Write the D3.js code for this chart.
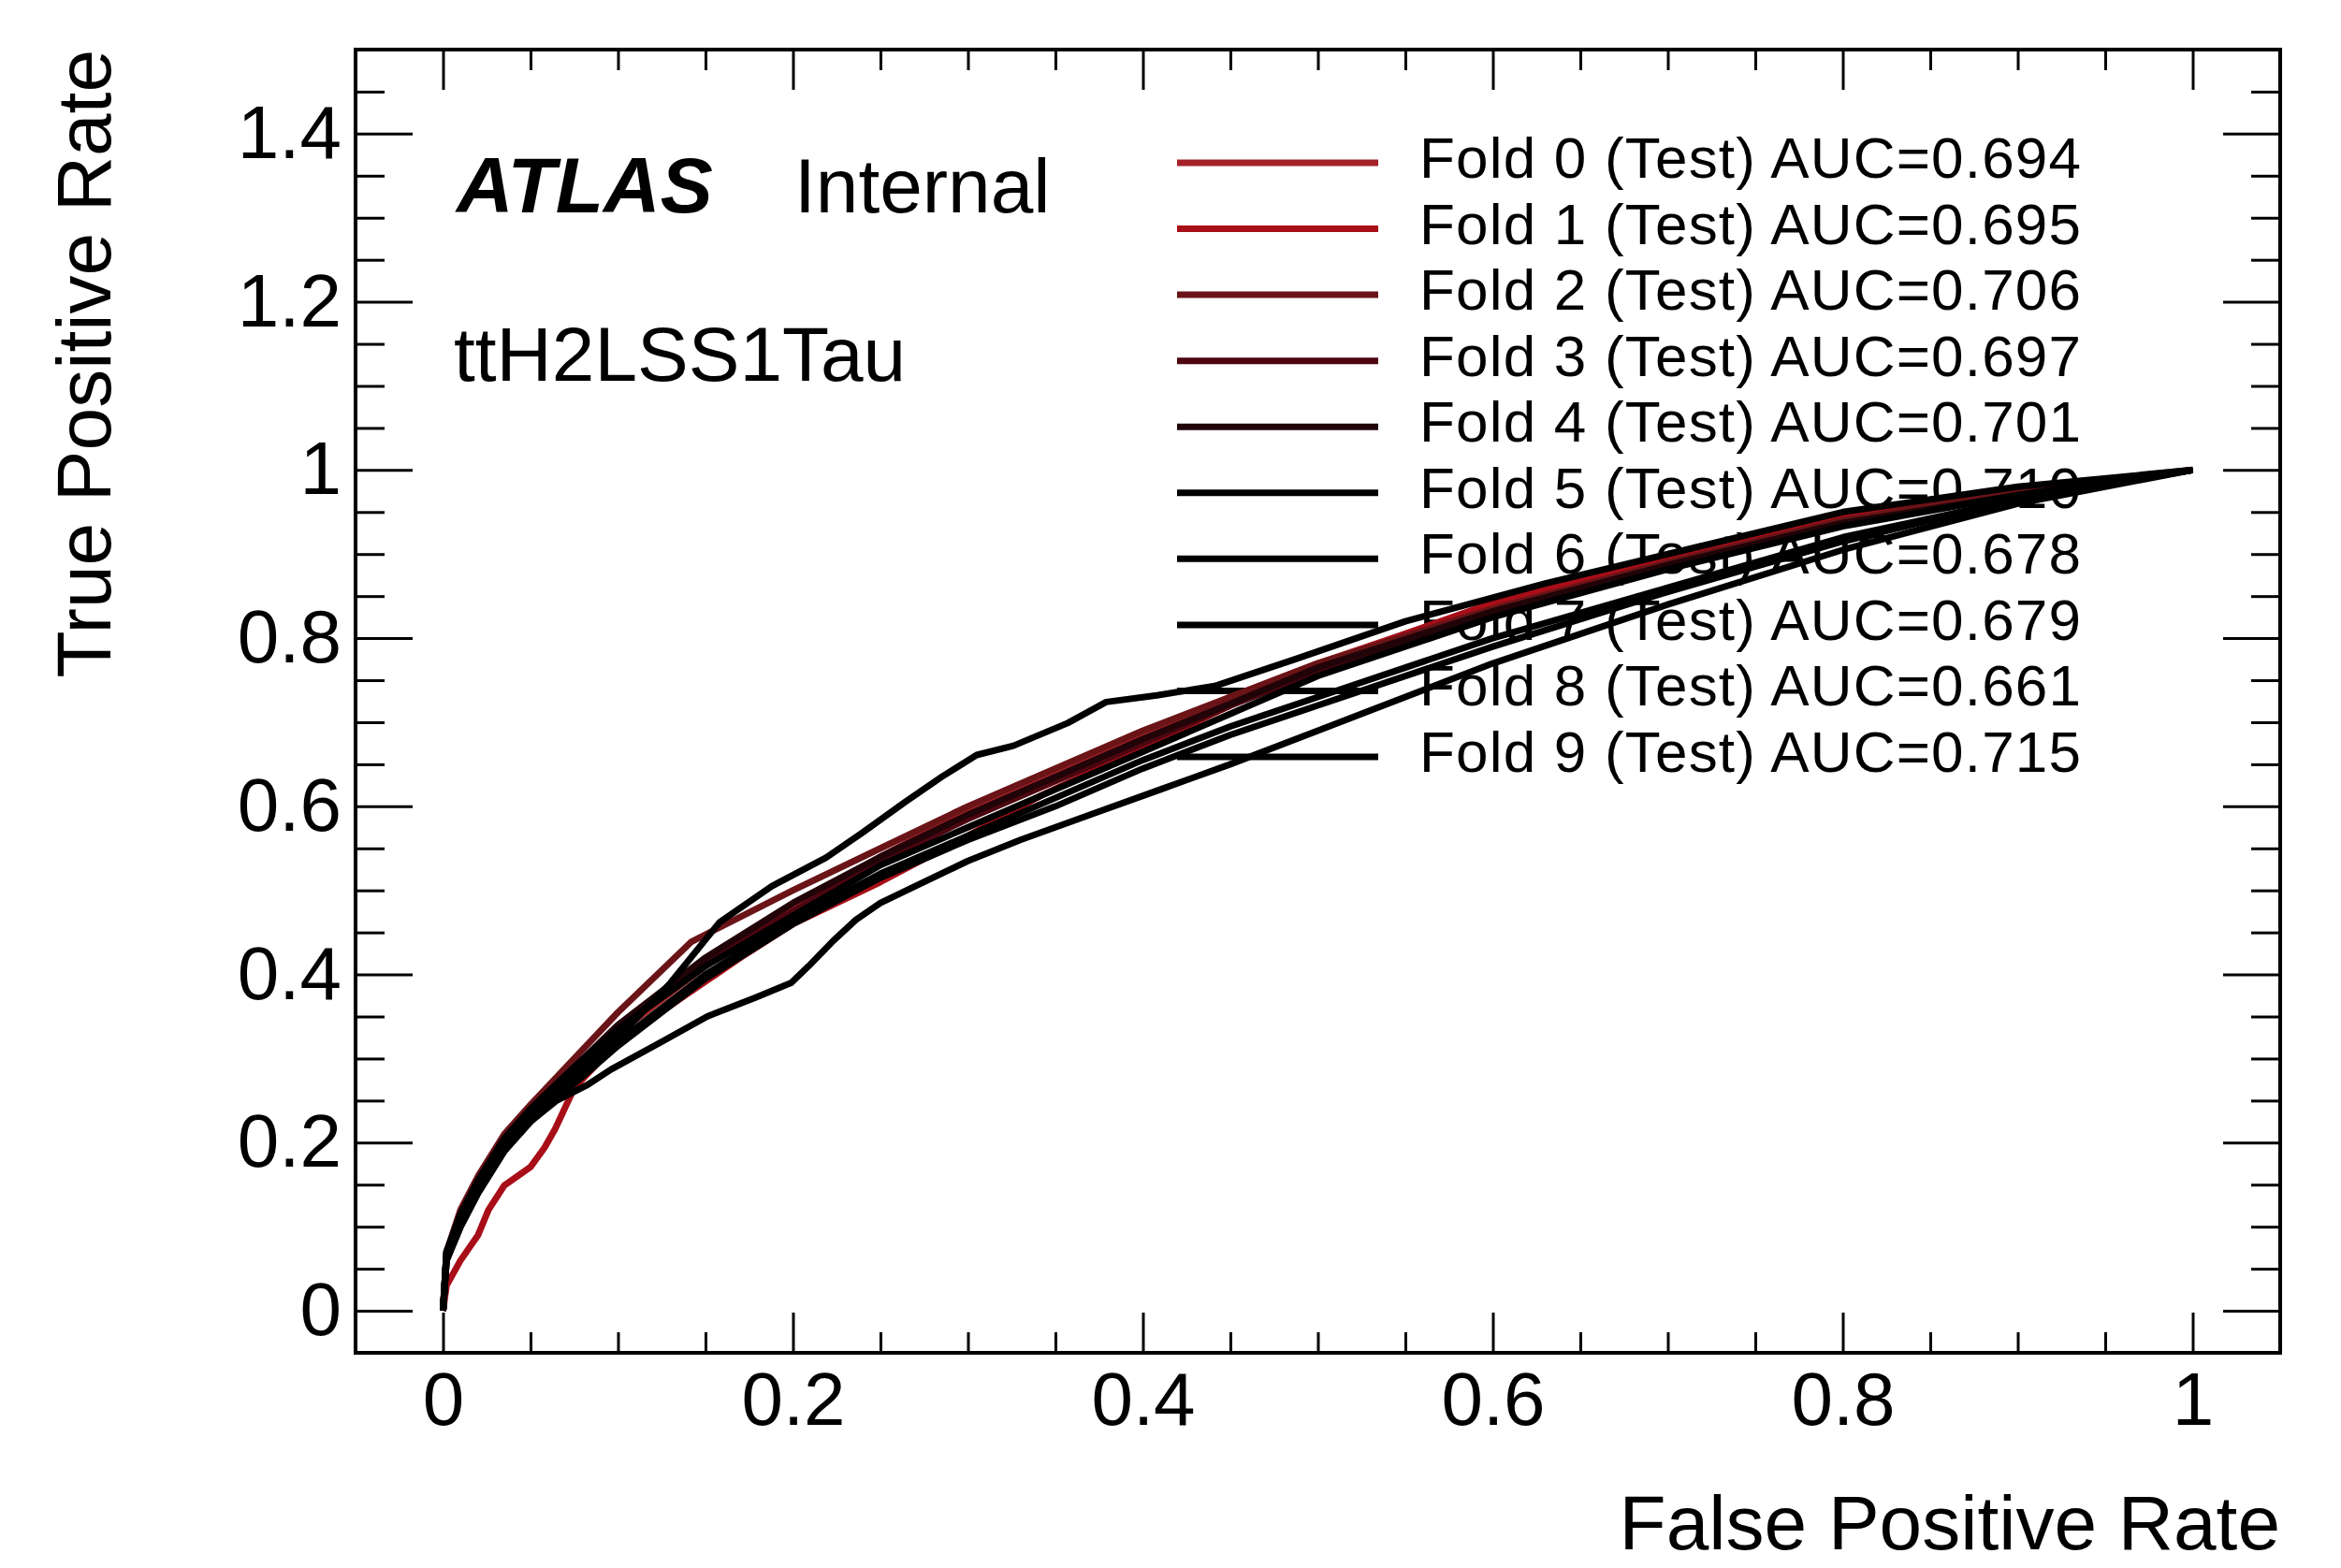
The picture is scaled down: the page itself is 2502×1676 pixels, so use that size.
<!DOCTYPE html>
<html lang="en">
  <head>
    <meta charset="utf-8">
    <title>ROC curves</title>
    <script type="text/javascript" src="https://d3js.org/d3.v7.min.js"></script>
    <style type="text/css">
      body { margin: 0; background: #fff; }
      text { font-family: "Liberation Sans", Arial, Helvetica, sans-serif; fill: #000; }
      .tick line { stroke: #000; stroke-width: 3; }
      .tick text { font-size: 80px; }
    </style>
  </head>
  <body>
    <div id="chart"></div>
    <script type="text/javascript">
      const w = 2502;
      const h = 1676;

      // legend
      const foldLabels = ["Fold 0", "Fold 1", "Fold 2", "Fold 3", "Fold 4", "Fold 5", "Fold 6", "Fold 7", "Fold 8", "Fold 9"];
      const foldAUC = ["0.694", "0.695", "0.706", "0.697", "0.701", "0.710", "0.678", "0.679", "0.661", "0.715"];
      const foldColors = ["#a52228", "#a80e18", "#6a1418", "#4d0610", "#200408", "#000", "#000", "#000", "#000", "#000"];

      // false positive rate (x) for each fold
      const fpr = [
        [0, .002, .01, .02, .035, .05, .075, .1, .15, .2, .25, .3, .35, .4, .45, .5, .6, .7, .8, .9, 1],
        [0, .002, .01, .02, .026, .035, .05, .058, .064, .075, .1, .139, .17, .2, .25, .3, .342, .4, .45, .5, .6, .7, .8, .87, .9, 1],
        [0, .002, .01, .02, .035, .05, .075, .1, .142, .2, .25, .3, .35, .4, .45, .5, .6, .7, .8, .9, 1],
        [0, .002, .01, .02, .035, .05, .075, .1, .15, .2, .25, .3, .35, .4, .45, .5, .6, .7, .8, .9, 1],
        [0, .002, .01, .02, .035, .05, .075, .1, .15, .2, .25, .3, .35, .4, .45, .5, .6, .7, .8, .9, 1],
        [0, .002, .01, .02, .035, .05, .075, .1, .15, .2, .25, .3, .35, .4, .45, .5, .6, .7, .8, .9, 1],
        [0, .002, .01, .02, .035, .05, .075, .1, .15, .2, .25, .3, .35, .4, .45, .5, .6, .7, .8, .9, 1],
        [0, .002, .01, .02, .035, .05, .075, .1, .15, .2, .25, .3, .35, .4, .45, .5, .6, .7, .8, .9, 1],
        [0, .002, .01, .02, .035, .05, .065, .082, .096, .125, .151, .178, .199, .209, .223, .236, .25, .27, .3, .33, .37, .41, .45, .5, .6, .7, .8, .9, 1],
        [0, .002, .01, .02, .035, .05, .075, .1, .13, .158, .188, .219, .24, .264, .285, .305, .326, .357, .379, .408, .441, .487, .55, .63, .7, .8, .9, 1]
      ];

      // true positive rate (y) for each fold
      const tpr = [
        [0, .06, .10, .14, .19, .23, .28, .33, .41, .48, .54, .595, .64, .685, .73, .77, .84, .893, .942, .975, 1],
        [0, .03, .06, .09, .12, .149, .171, .194, .216, .265, .32, .376, .42, .46, .51, .565, .613, .67, .72, .768, .842, .895, .945, .97, .978, 1],
        [0, .07, .12, .16, .21, .245, .30, .355, .439, .50, .55, .60, .645, .69, .73, .77, .835, .89, .94, .975, 1],
        [0, .065, .11, .15, .20, .235, .285, .335, .415, .475, .535, .585, .63, .675, .72, .76, .83, .885, .935, .97, 1],
        [0, .07, .115, .155, .205, .24, .29, .34, .42, .485, .54, .59, .635, .68, .722, .765, .832, .887, .937, .97, 1],
        [0, .07, .115, .155, .205, .24, .29, .335, .41, .47, .53, .575, .62, .665, .71, .755, .825, .882, .933, .97, 1],
        [0, .06, .10, .14, .19, .225, .27, .315, .395, .46, .515, .56, .60, .645, .685, .72, .79, .855, .915, .965, 1],
        [0, .065, .11, .15, .195, .23, .275, .32, .40, .465, .52, .565, .61, .655, .695, .73, .80, .86, .92, .965, 1],
        [0, .06, .10, .14, .19, .225, .25, .268, .287, .32, .35, .372, .39, .41, .44, .465, .485, .505, .535, .56, .59, .62, .65, .69, .77, .84, .905, .96, 1],
        [0, .07, .11, .15, .20, .235, .28, .325, .39, .462, .505, .539, .569, .605, .635, .661, .672, .699, .724, .732, .743, .775, .82, .865, .90, .95, .98, 1]
      ];

      const xMajor = [0, 0.2, 0.4, 0.6, 0.8, 1];
      const yMajor = [0, 0.2, 0.4, 0.6, 0.8, 1, 1.2, 1.4];

      // frame edges in pixels
      const padL = 380, padR = 2437, padT = 53, padB = 1446;

      const svg = d3.select("#chart")
                    .append("svg")
                    .attr("width", w)
                    .attr("height", h);

      const x = d3.scaleLinear().domain([-0.05, 1.05]).range([padL, padR]);
      const y = d3.scaleLinear().domain([-0.05, 1.5]).range([padB, padT]);

      const xMinor = d3.range(-1, 22).filter(i => i % 4 !== 0).map(i => i * 0.05);
      const yMinor = d3.range(-1, 31).filter(i => i % 4 !== 0).map(i => i * 0.05);
      const fmt = d3.format("~g");

      // axes: ticks on all four sides, pointing inward
      function addAxis(axis, tx, ty, labels) {
        const g = svg.append("g")
                     .attr("transform", `translate(${tx},${ty})`)
                     .call(axis);
        g.select(".domain").remove();
        if (!labels) g.selectAll(".tick text").remove();
        return g;
      }

      addAxis(d3.axisBottom(x).tickValues(xMajor).tickSize(-43).tickPadding(20).tickFormat(fmt), 0, padB, true);
      addAxis(d3.axisBottom(x).tickValues(xMinor).tickSize(-22).tickFormat(""), 0, padB, false);
      addAxis(d3.axisTop(x).tickValues(xMajor).tickSize(-43).tickFormat(""), 0, padT, false);
      addAxis(d3.axisTop(x).tickValues(xMinor).tickSize(-22).tickFormat(""), 0, padT, false);

      addAxis(d3.axisLeft(y).tickValues(yMajor).tickSize(-61).tickPadding(15).tickFormat(fmt), padL, 0, true);
      addAxis(d3.axisLeft(y).tickValues(yMinor).tickSize(-31).tickFormat(""), padL, 0, false);
      addAxis(d3.axisRight(y).tickValues(yMajor).tickSize(-61).tickFormat(""), padR, 0, false);
      addAxis(d3.axisRight(y).tickValues(yMinor).tickSize(-31).tickFormat(""), padR, 0, false);

      svg.selectAll(".tick text")
         .style("font-size", "80px")
         .style("font-family", "'Liberation Sans', Arial, sans-serif")
         .attr("fill", "#000");

      // frame
      svg.append("rect")
         .attr("x", padL)
         .attr("y", padT)
         .attr("width", padR - padL)
         .attr("height", padB - padT)
         .attr("fill", "none")
         .attr("stroke", "#000")
         .attr("stroke-width", 4);

      // axis titles
      svg.append("text")
         .attr("x", padR)
         .attr("y", 1656)
         .attr("text-anchor", "end")
         .style("font-size", "82px")
         .text("False Positive Rate");

      svg.append("text")
         .attr("transform", "translate(118,53) rotate(-90)")
         .attr("text-anchor", "end")
         .style("font-size", "82px")
         .text("True Positive Rate");

      // ATLAS label
      svg.append("text")
         .attr("x", 488)
         .attr("y", 227)
         .style("font-size", "84px")
         .style("font-weight", "bold")
         .style("font-style", "italic")
         .text("ATLAS");
      svg.append("text")
         .attr("x", 849)
         .attr("y", 227)
         .style("font-size", "82px")
         .text("Internal");
      svg.append("text")
         .attr("x", 485)
         .attr("y", 407)
         .style("font-size", "82px")
         .text("ttH2LSS1Tau");

      // legend (drawn under the curves)
      const legY = d3.scaleLinear().domain([0, 9]).range([174, 809]);
      const leg = svg.append("g");
      leg.selectAll("line")
         .data(foldLabels)
         .enter()
         .append("line")
         .attr("x1", 1258)
         .attr("x2", 1473)
         .attr("y1", (d, i) => legY(i))
         .attr("y2", (d, i) => legY(i))
         .attr("stroke", (d, i) => foldColors[i])
         .attr("stroke-width", 7);
      leg.selectAll("text")
         .data(foldLabels)
         .enter()
         .append("text")
         .attr("x", 1517)
         .attr("y", (d, i) => legY(i) + 16)
         .style("font-size", "62px")
         .style("letter-spacing", "1.2px")
         .text((d, i) => `${d} (Test) AUC=${foldAUC[i]}`);

      // ROC curves
      const line = d3.line()
                     .x(d => x(d[0]))
                     .y(d => y(d[1]));

      svg.selectAll(".roc")
         .data(foldLabels)
         .enter()
         .append("path")
         .attr("class", "roc")
         .attr("d", (d, i) => line(fpr[i].map((v, j) => [v, tpr[i][j]])))
         .attr("fill", "none")
         .attr("stroke", (d, i) => foldColors[i])
         .attr("stroke-width", 7)
         .attr("stroke-linejoin", "round");
    </script>
  </body>
</html>
